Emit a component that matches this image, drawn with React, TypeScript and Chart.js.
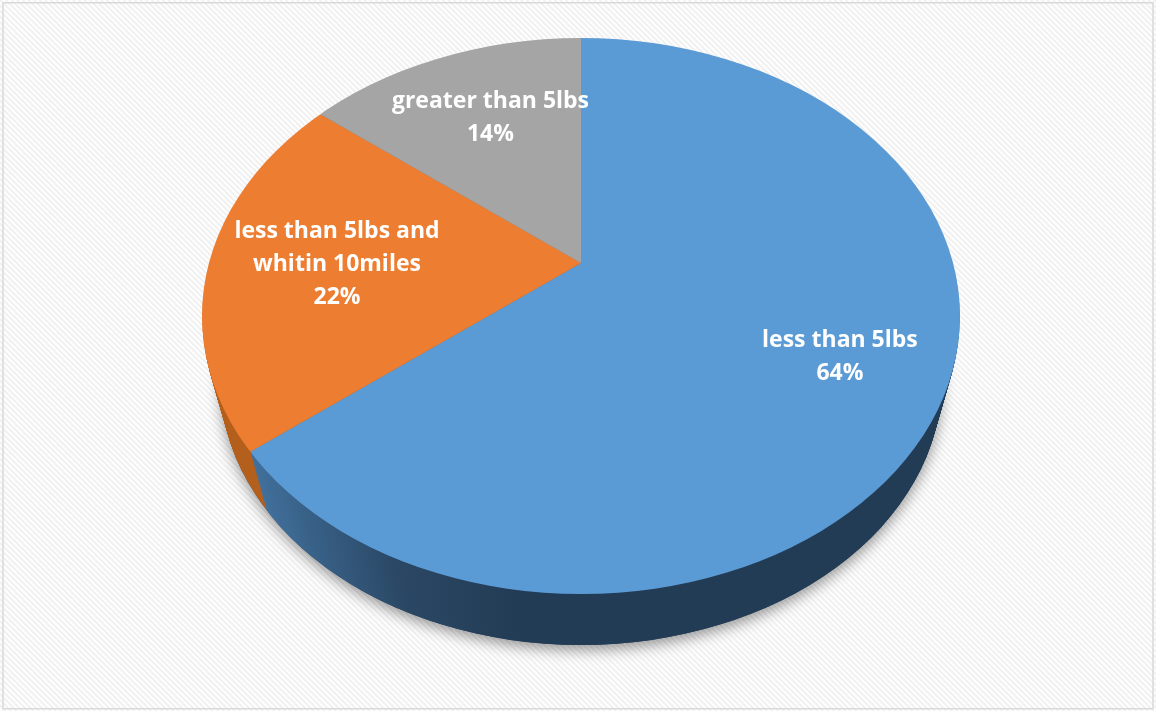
import React, { useEffect, useRef } from "react";
import { Chart, registerables } from "chart.js";

Chart.register(...registerables);

const CATEGORIES: string[][] = [
  ["less than 5lbs"],
  ["less than 5lbs and", "whitin 10miles"],
  ["greater than 5lbs"],
];
const VALUES: number[] = [64, 22, 14];
const TOP_COLORS = ["#5B9BD5", "#ED7D31", "#A5A5A5"];
const SIDE_COLORS = ["#243D56", "#B5601F", "#7B7B7B"];
const LABEL_FRAC = [0.59, 0.488, 0.444];
const LABEL_NUDGE = [
  [-8, 7],
  [0, 1],
  [4, -6],
];

const W = 1156;
const H = 711;
// outline ellipse of the pie's top surface and its 3D depth
const EX = 581;
const EY = 316;
const RX = 379;
const RY = 278;
const DEPTH = 51;
const BOTTOM_SHRINK = 0.048;
const PIE_SCALE = 0.69;
const FONT = 'bold 23px "Open Sans", "Liberation Sans", sans-serif';
const LINE_H = 33;

function scaleAround(ctx: CanvasRenderingContext2D, cx: number, cy: number) {
  ctx.translate(cx, cy);
  ctx.scale(1, PIE_SCALE);
  ctx.translate(-cx, -cy);
}

// map the top ellipse onto the (slightly smaller, lower) layer at depth d
function layerTransform(ctx: CanvasRenderingContext2D, d: number) {
  const f = 1 - (BOTTOM_SHRINK * d) / DEPTH;
  const ey = EY + RY + d - RY * f;
  ctx.translate(EX, ey);
  ctx.scale(f, f);
  ctx.translate(-EX, -EY);
}

const pie3d = {
  id: "pie3d",
  beforeDraw(chart: any) {
    const ctx: CanvasRenderingContext2D = chart.ctx;
    ctx.save();
    ctx.fillStyle = "#FFFFFF";
    ctx.fillRect(0, 0, W, H);
    ctx.strokeStyle = "#F1F1F1";
    ctx.lineWidth = 2.2;
    ctx.beginPath();
    for (let k = -H; k < W + H; k += 5.6) {
      ctx.moveTo(k, 0);
      ctx.lineTo(k + H, H);
    }
    ctx.stroke();
    ctx.restore();
  },
  beforeDatasetsDraw(chart: any) {
    const ctx: CanvasRenderingContext2D = chart.ctx;
    const meta = chart.getDatasetMeta(0);
    const arcs = meta.data;
    if (!arcs.length) return;
    const cx = arcs[0].x;
    const cy = arcs[0].y;

    // soft shadow under the pie
    ctx.save();
    layerTransform(ctx, DEPTH);
    ctx.shadowColor = "rgba(0,0,0,0.4)";
    ctx.shadowBlur = 14;
    ctx.shadowOffsetY = 5;
    ctx.fillStyle = "#243D56";
    ctx.beginPath();
    ctx.ellipse(EX, EY, RX, RY, 0, 0, Math.PI * 2);
    ctx.fill();
    ctx.restore();

    for (let d = DEPTH; d >= 1; d--) {
      ctx.save();
      layerTransform(ctx, d);
      ctx.beginPath();
      ctx.ellipse(EX, EY, RX, RY, 0, 0, Math.PI * 2);
      ctx.clip();
      const blueGrad = ctx.createLinearGradient(250, 0, 520, 0);
      blueGrad.addColorStop(0, "#41709C");
      blueGrad.addColorStop(0.55, "#2A4764");
      blueGrad.addColorStop(1, "#233C55");
      const sideFill = [blueGrad, SIDE_COLORS[1], SIDE_COLORS[2]];
      scaleAround(ctx, cx, cy);
      arcs.forEach((arc: any, i: number) => {
        const o = arc.options;
        arc.options = { ...o, backgroundColor: sideFill[i], borderWidth: 0 };
        arc.draw(ctx);
        arc.options = o;
      });
      ctx.restore();
    }

    // top surface: clip to ellipse and squash vertically
    ctx.save();
    ctx.beginPath();
    ctx.ellipse(EX, EY, RX, RY, 0, 0, Math.PI * 2);
    ctx.clip();
    scaleAround(ctx, cx, cy);
  },
  afterDatasetsDraw(chart: any) {
    const ctx: CanvasRenderingContext2D = chart.ctx;
    ctx.restore();
    const meta = chart.getDatasetMeta(0);
    const total = VALUES.reduce((a, b) => a + b, 0);
    ctx.save();
    ctx.font = FONT;
    ctx.fillStyle = "#FFFFFF";
    ctx.textAlign = "center";
    ctx.textBaseline = "middle";
    meta.data.forEach((arc: any, i: number) => {
      const mid = (arc.startAngle + arc.endAngle) / 2;
      const r = arc.outerRadius * LABEL_FRAC[i];
      const x = arc.x + Math.cos(mid) * r + LABEL_NUDGE[i][0];
      const y = arc.y + Math.sin(mid) * r * PIE_SCALE + LABEL_NUDGE[i][1];
      const lines = [...CATEGORIES[i], Math.round((VALUES[i] / total) * 100) + "%"];
      const y0 = y - ((lines.length - 1) * LINE_H) / 2;
      lines.forEach((ln, j) => ctx.fillText(ln, x, y0 + j * LINE_H));
    });
    ctx.restore();
  },
  afterDraw(chart: any) {
    const ctx: CanvasRenderingContext2D = chart.ctx;
    ctx.save();
    ctx.strokeStyle = "#D9D9D9";
    ctx.lineWidth = 1.5;
    ctx.strokeRect(3, 2.75, W - 6, H - 5);
    ctx.restore();
  },
};

export default function App() {
  const ref = useRef<HTMLCanvasElement | null>(null);
  useEffect(() => {
    if (!ref.current) return;
    const chart = new Chart(ref.current, {
      type: "pie",
      data: {
        labels: CATEGORIES,
        datasets: [
          {
            data: VALUES,
            backgroundColor: TOP_COLORS,
            borderWidth: 0,
            clip: false,
          } as any,
        ],
      },
      options: {
        animation: false,
        responsive: false,
        devicePixelRatio: 1,
        radius: 500,
        layout: { padding: { left: 6, right: 0, top: 0, bottom: 185 } },
        plugins: {
          legend: { display: false },
          tooltip: { enabled: false },
        },
      } as any,
      plugins: [pie3d],
    });
    return () => chart.destroy();
  }, []);
  return (
    <div style={{ position: "fixed", left: 0, top: 0, width: W, height: H, background: "#fff" }}>
      <canvas ref={ref} width={W} height={H} style={{ width: W, height: H, display: "block" }} />
    </div>
  );
}
